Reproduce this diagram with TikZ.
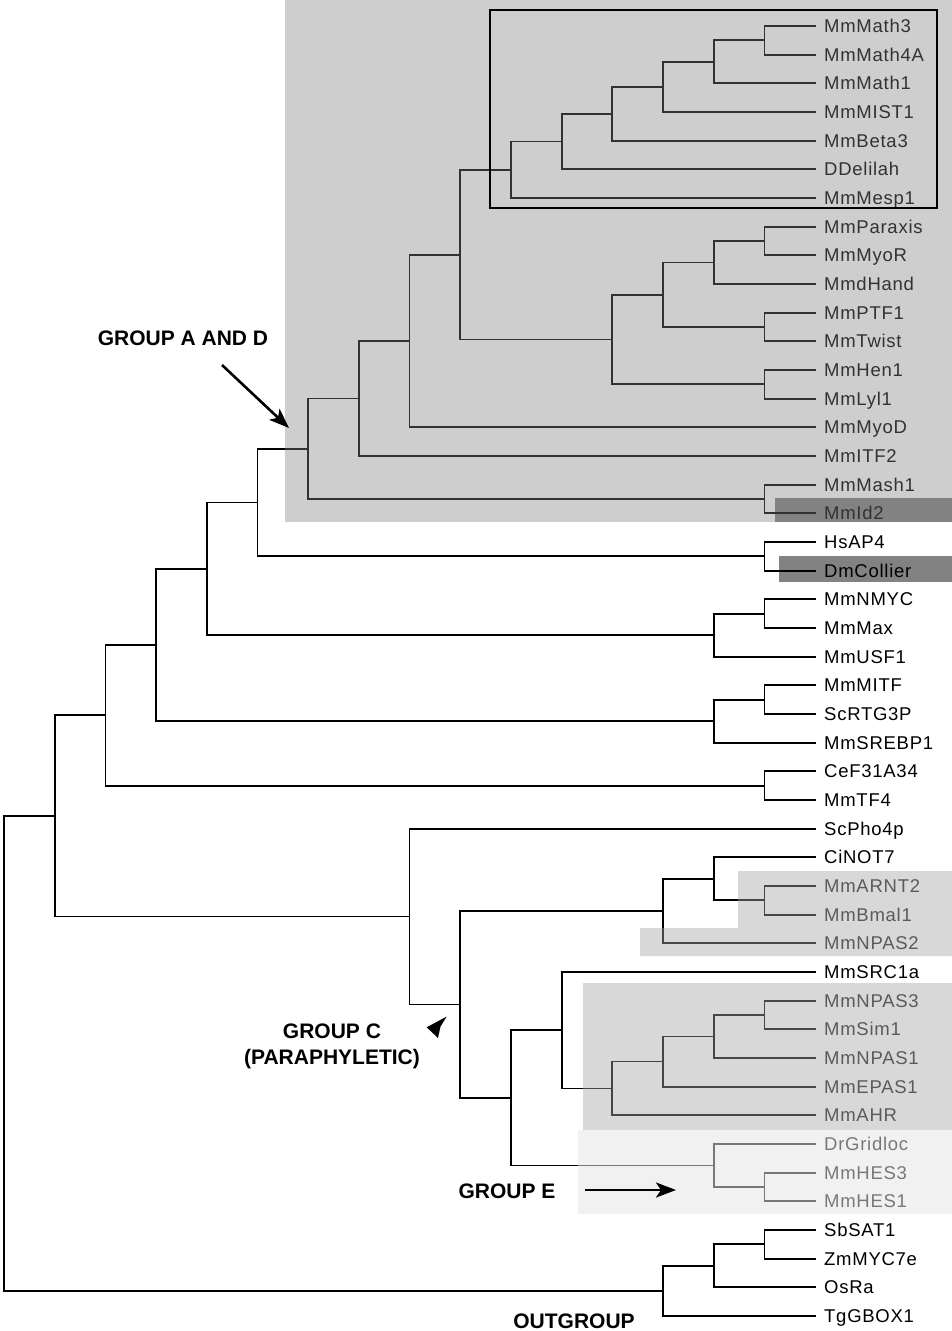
\documentclass[tikz,border=0pt]{standalone}
\usepackage{fontspec}
\setmainfont{Liberation Sans}
\newfontfamily\leaffamily[LetterSpace=4]{Liberation Sans}
\usetikzlibrary{arrows.meta}
\definecolor{adgray}{RGB}{206,206,206}
\definecolor{darkbox}{RGB}{130,130,130}
\definecolor{cgray}{RGB}{216,216,216}
\definecolor{egray}{RGB}{241,241,241}
\definecolor{adline}{RGB}{50,50,50}
\definecolor{cline}{RGB}{70,70,70}
\definecolor{eline}{RGB}{120,120,120}
\definecolor{adtext}{RGB}{50,50,50}
\definecolor{ctext}{RGB}{90,90,90}
\definecolor{etext}{RGB}{120,120,120}
\newcommand\br[2]{\draw[branch] (#1) |- (#2);}
\newcommand\treeedges{%
\br{na}{L0.west}\br{na}{L1.west}
\br{nb}{na}\br{nb}{L2.west}
\br{nc}{nb}\br{nc}{L3.west}
\br{nd}{nc}\br{nd}{L4.west}
\br{ne}{nd}\br{ne}{L5.west}
\br{nf}{ne}\br{nf}{L6.west}
\br{ng}{L7.west}\br{ng}{L8.west}
\br{nh}{ng}\br{nh}{L9.west}
\br{ni}{L10.west}\br{ni}{L11.west}
\br{nj}{nh}\br{nj}{ni}
\br{nk}{L12.west}\br{nk}{L13.west}
\br{nl}{nj}\br{nl}{nk}
\br{nm}{nf}\br{nm}{nl}
\br{nn}{nm}\br{nn}{L14.west}
\br{no}{nn}\br{no}{L15.west}
\br{np}{L16.west}\br{np}{L17.west}
\br{nq}{no}\br{nq}{np}
\br{nr}{L18.west}\br{nr}{L19.west}
\br{ns}{nq}\br{ns}{nr}
\br{nt}{L20.west}\br{nt}{L21.west}
\br{nu}{nt}\br{nu}{L22.west}
\br{nv}{ns}\br{nv}{nu}
\br{nw}{L23.west}\br{nw}{L24.west}
\br{nx}{nw}\br{nx}{L25.west}
\br{ny}{nv}\br{ny}{nx}
\br{nz}{L26.west}\br{nz}{L27.west}
\br{naa}{ny}\br{naa}{nz}
\br{ma}{L30.west}\br{ma}{L31.west}
\br{mb}{L29.west}\br{mb}{ma}
\br{mc}{mb}\br{mc}{L32.west}
\br{md}{L34.west}\br{md}{L35.west}
\br{me}{md}\br{me}{L36.west}
\br{mf}{me}\br{mf}{L37.west}
\br{mg}{mf}\br{mg}{L38.west}
\br{mh}{L33.west}\br{mh}{mg}
\br{mi}{L40.west}\br{mi}{L41.west}
\br{mj}{L39.west}\br{mj}{mi}
\br{mk}{mh}\br{mk}{mj}
\br{ml}{mc}\br{ml}{mk}
\br{mm}{L28.west}\br{mm}{ml}
\br{nbb}{naa}\br{nbb}{mm}
\br{oa}{L42.west}\br{oa}{L43.west}
\br{ob}{oa}\br{ob}{L44.west}
\br{oc}{ob}\br{oc}{L45.west}
\br{root}{nbb}\br{root}{oc}}
\begin{document}
\begin{tikzpicture}[x=1pt,y=-1pt,
  branch/.style={line width=1.8pt,line cap=rect},
  leaf/.style={anchor=west,inner xsep=9pt,inner ysep=0pt,text height=16pt,text depth=3.1pt,
    font=\leaffamily\fontsize{18.5}{20}\selectfont},
  grouplabel/.style={font=\fontsize{21}{26}\selectfont\bfseries,align=center,inner sep=0pt},
  bigarrow/.style={line width=2.6pt,-{Stealth[length=20pt,width=15pt,inset=5pt]}}]
\useasboundingbox (0,0) rectangle (952,1331);
% shaded regions
\fill[adgray] (285,0) rectangle (952,522);
\fill[darkbox] (775,498) rectangle (952,522);
\fill[darkbox] (779,556) rectangle (952,582);
\fill[cgray] (738,871) -- (952,871) -- (952,956) -- (640,956) -- (640,928) -- (738,928) -- cycle;
\fill[cgray] (583,983) rectangle (952,1130);
\fill[egray] (578,1130) rectangle (952,1214);
% leaves
\node[leaf,text=adtext] (L0) at (815,26) {MmMath3};
\node[leaf,text=adtext] (L1) at (815,54.67) {MmMath4A};
\node[leaf,text=adtext] (L2) at (815,83.33) {MmMath1};
\node[leaf,text=adtext] (L3) at (815,112) {MmMIST1};
\node[leaf,text=adtext] (L4) at (815,140.67) {MmBeta3};
\node[leaf,text=adtext] (L5) at (815,169.33) {DDelilah};
\node[leaf,text=adtext] (L6) at (815,198) {MmMesp1};
\node[leaf,text=adtext] (L7) at (815,226.67) {MmParaxis};
\node[leaf,text=adtext] (L8) at (815,255.33) {MmMyoR};
\node[leaf,text=adtext] (L9) at (815,284) {MmdHand};
\node[leaf,text=adtext] (L10) at (815,312.67) {MmPTF1};
\node[leaf,text=adtext] (L11) at (815,341.33) {MmTwist};
\node[leaf,text=adtext] (L12) at (815,370) {MmHen1};
\node[leaf,text=adtext] (L13) at (815,398.67) {MmLyl1};
\node[leaf,text=adtext] (L14) at (815,427.33) {MmMyoD};
\node[leaf,text=adtext] (L15) at (815,456) {MmITF2};
\node[leaf,text=adtext] (L16) at (815,484.67) {MmMash1};
\node[leaf,text=adtext] (L17) at (815,513.33) {MmId2};
\node[leaf] (L18) at (815,542) {HsAP4};
\node[leaf] (L19) at (815,570.67) {DmCollier};
\node[leaf] (L20) at (815,599.33) {MmNMYC};
\node[leaf] (L21) at (815,628) {MmMax};
\node[leaf] (L22) at (815,656.67) {MmUSF1};
\node[leaf] (L23) at (815,685.33) {MmMITF};
\node[leaf] (L24) at (815,714) {ScRTG3P};
\node[leaf] (L25) at (815,742.67) {MmSREBP1};
\node[leaf] (L26) at (815,771.33) {CeF31A34};
\node[leaf] (L27) at (815,800) {MmTF4};
\node[leaf] (L28) at (815,828.67) {ScPho4p};
\node[leaf] (L29) at (815,857.33) {CiNOT7};
\node[leaf,text=ctext] (L30) at (815,886) {MmARNT2};
\node[leaf,text=ctext] (L31) at (815,914.67) {MmBmal1};
\node[leaf,text=ctext] (L32) at (815,943.33) {MmNPAS2};
\node[leaf] (L33) at (815,972) {MmSRC1a};
\node[leaf,text=ctext] (L34) at (815,1000.67) {MmNPAS3};
\node[leaf,text=ctext] (L35) at (815,1029.33) {MmSim1};
\node[leaf,text=ctext] (L36) at (815,1058) {MmNPAS1};
\node[leaf,text=ctext] (L37) at (815,1086.67) {MmEPAS1};
\node[leaf,text=ctext] (L38) at (815,1115.33) {MmAHR};
\node[leaf,text=etext] (L39) at (815,1144) {DrGridloc};
\node[leaf,text=etext] (L40) at (815,1172.67) {MmHES3};
\node[leaf,text=etext] (L41) at (815,1201.33) {MmHES1};
\node[leaf] (L42) at (815,1230) {SbSAT1};
\node[leaf] (L43) at (815,1258.67) {ZmMYC7e};
\node[leaf] (L44) at (815,1287.33) {OsRa};
\node[leaf] (L45) at (815,1316) {TgGBOX1};
% internal nodes
\coordinate (na) at (764.4,40.33);
\coordinate (nb) at (713.7,61.83);
\coordinate (nc) at (663,86.92);
\coordinate (nd) at (612.3,113.79);
\coordinate (ne) at (561.6,141.56);
\coordinate (nf) at (510.9,169.78);
\coordinate (ng) at (764.4,241);
\coordinate (nh) at (713.7,262.5);
\coordinate (ni) at (764.4,327);
\coordinate (nj) at (663,294.75);
\coordinate (nk) at (764.4,384.33);
\coordinate (nl) at (612.3,339.54);
\coordinate (nm) at (460.2,254.66);
\coordinate (nn) at (409.5,341);
\coordinate (no) at (358.8,398.5);
\coordinate (np) at (764.4,499);
\coordinate (nq) at (308.1,448.75);
\coordinate (nr) at (764.4,556.33);
\coordinate (ns) at (257.5,502.54);
\coordinate (nt) at (764.4,613.67);
\coordinate (nu) at (713.7,635.17);
\coordinate (nv) at (206.8,568.85);
\coordinate (nw) at (764.4,699.67);
\coordinate (nx) at (713.7,721.17);
\coordinate (ny) at (156.1,645);
\coordinate (nz) at (764.4,785.67);
\coordinate (naa) at (105.4,715.33);
\coordinate (ma) at (764.4,900.33);
\coordinate (mb) at (713.7,878.83);
\coordinate (mc) at (663,911.08);
\coordinate (md) at (764.4,1015);
\coordinate (me) at (713.7,1036.5);
\coordinate (mf) at (663,1061.58);
\coordinate (mg) at (612.3,1088.46);
\coordinate (mh) at (561.6,1030.23);
\coordinate (mi) at (764.4,1187);
\coordinate (mj) at (713.7,1165.5);
\coordinate (mk) at (510.9,1097.87);
\coordinate (ml) at (460.2,1004.48);
\coordinate (mm) at (409.5,916.58);
\coordinate (nbb) at (54.7,815.96);
\coordinate (oa) at (764.4,1244.33);
\coordinate (ob) at (713.7,1265.83);
\coordinate (oc) at (663,1290.92);
\coordinate (root) at (4,1053.44);
% tree in black
\treeedges
% recolour inside shaded regions
\begin{scope}
  \clip (285,0) rectangle (952,522);
  \begin{scope}[color=adline]\treeedges\end{scope}
\end{scope}
\begin{scope}
  \clip (738,871) -- (952,871) -- (952,956) -- (640,956) -- (640,928) -- (738,928) -- cycle;
  \begin{scope}[color=cline]\treeedges\end{scope}
\end{scope}
\begin{scope}
  \clip (583,983) rectangle (952,1130);
  \begin{scope}[color=cline]\treeedges\end{scope}
\end{scope}
\begin{scope}
  \clip (578,1130) rectangle (952,1214);
  \begin{scope}[color=eline]\treeedges\end{scope}
\end{scope}
% framed subgroup
\draw[line width=2pt] (490,10) rectangle (937,208);
% group labels
\node[grouplabel] (gad) at (183,338) {GROUP A AND D};
\coordinate (gadtail) at (222,365);
\coordinate (gadtip) at (289,428);
\draw[bigarrow] (gadtail) -- (gadtip);
\node[grouplabel] (gc) at (332,1046) {GROUP C\\(PARAPHYLETIC)};
\fill (426.7,1027.3) -- (446.7,1016.5) -- (440.5,1026.5) -- (438,1038) -- cycle;
\node[grouplabel] (ge) at (507,1191) {GROUP E};
\coordinate (getail) at (585,1190);
\coordinate (getip) at (676,1190);
\draw[bigarrow] (getail) -- (getip);
\node[grouplabel] (og) at (574,1321) {OUTGROUP};
\end{tikzpicture}
\end{document}
